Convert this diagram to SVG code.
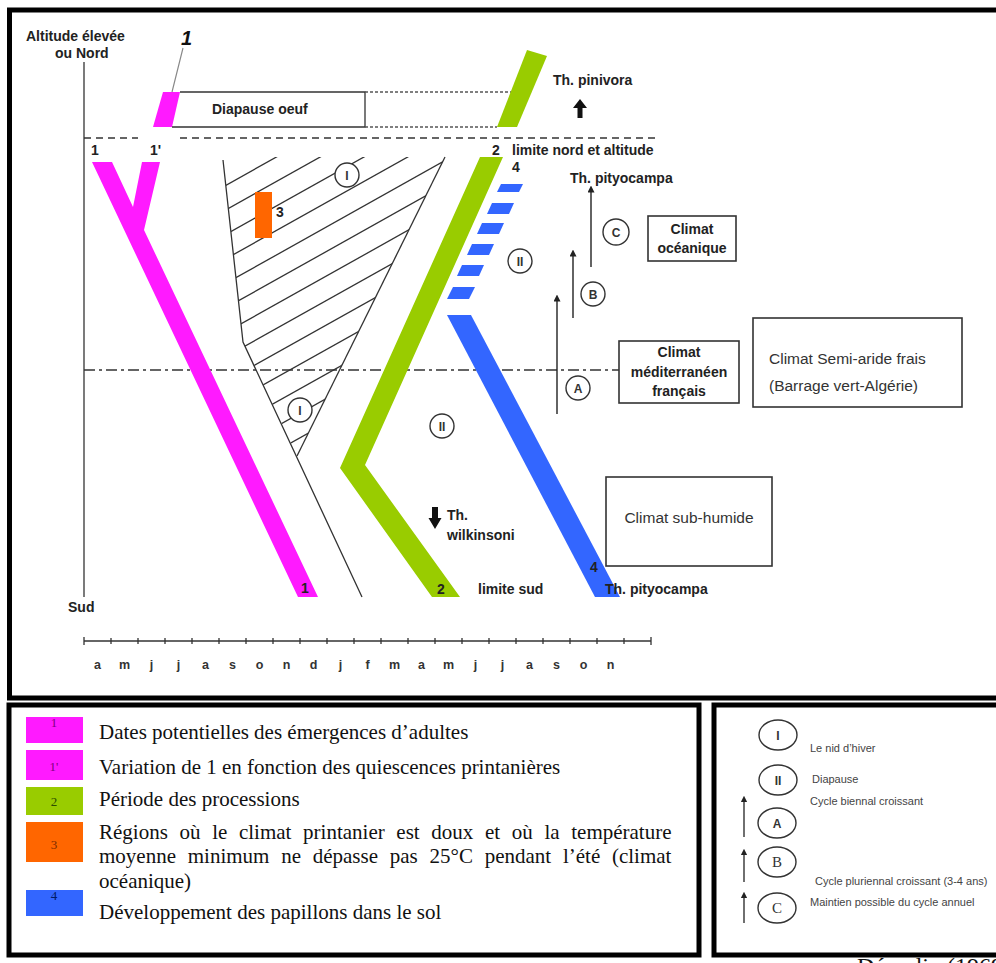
<svg xmlns="http://www.w3.org/2000/svg" width="996" height="963" viewBox="0 0 996 963">
<style>
.b{font-family:"Liberation Sans",Arial,sans-serif;font-weight:bold;font-size:14px;fill:#222}
.m{font-family:"Liberation Sans",Arial,sans-serif;font-weight:bold;font-size:12.5px;fill:#333}
.r{font-family:"Liberation Sans",Arial,sans-serif;font-size:15.5px;fill:#333}
.s{font-family:"Liberation Sans",Arial,sans-serif;font-size:11px;fill:#444}
.ci{font-family:"Liberation Sans",Arial,sans-serif;font-weight:bold;font-size:12px;fill:#333;text-anchor:middle}
.cs{font-family:"Liberation Serif","Times New Roman",serif;font-size:15px;fill:#333;text-anchor:middle}
.lg{font-family:"Liberation Serif","Times New Roman",serif;font-size:21px;fill:#111}
.sw{font-family:"Liberation Serif","Times New Roman",serif;font-size:13px;text-anchor:middle}
.frame{fill:none;stroke:#000;stroke-width:5}
.thin{fill:none;stroke:#333;stroke-width:1.3}
.box{fill:#fff;stroke:#333;stroke-width:1.6}
.circ{fill:#fff;stroke:#333;stroke-width:1.4}
.mag{fill:#ff1aff}
.grn{fill:#99cc00}
.blu{fill:#3366ff}
.org{fill:#ff6600}
</style>
<defs>
<marker id="ah" viewBox="0 0 6 6" refX="3" refY="3" markerWidth="5" markerHeight="5" orient="auto"><path d="M0,0 L6,3 L0,6 z" fill="#222"/></marker>
<clipPath id="tri"><polygon points="223,157 445,157 297,456 243,342"/></clipPath>
</defs>
<rect width="996" height="963" fill="#fff"/>

<g id="frames">
<rect class="frame" x="9.5" y="10" width="1000" height="688"/>
<rect class="frame" x="9" y="705" width="690" height="250"/>
<rect class="frame" x="714" y="705" width="300" height="250"/>
</g>

<g id="axes">
<line class="thin" x1="84" y1="62" x2="84" y2="597"/>
<text class="b" x="26" y="41" font-size="14.5">Altitude élevée</text>
<text class="b" x="55" y="58" font-size="14.5">ou Nord</text>
<text class="b" x="68" y="612">Sud</text>
<line class="thin" x1="84" y1="641" x2="651" y2="641"/>
<path class="thin" d="M84,637V645M111,638V644M138,638V644M165,638V644M192,638V644M219,638V644M246,638V644M273,638V644M300,638V644M327,638V644M354,638V644M381,638V644M408,638V644M435,638V644M462,638V644M489,638V644M516,638V644M543,638V644M570,638V644M597,638V644M624,638V644M651,637V645"/>
<g class="m" text-anchor="middle">
<text x="97.5" y="669">a</text><text x="124.5" y="669">m</text><text x="151.5" y="669">j</text><text x="178.5" y="669">j</text><text x="205.5" y="669">a</text><text x="232.5" y="669">s</text><text x="259.5" y="669">o</text><text x="286.5" y="669">n</text><text x="313.5" y="669">d</text><text x="340.5" y="669">j</text><text x="367.5" y="669">f</text><text x="394.5" y="669">m</text><text x="421.5" y="669">a</text><text x="448.5" y="669">m</text><text x="475.5" y="669">j</text><text x="502.5" y="669">j</text><text x="529.5" y="669">a</text><text x="556.5" y="669">s</text><text x="583.5" y="669">o</text><text x="610.5" y="669">n</text>
</g>
<path d="M84,138H138M180,138H655" stroke="#333" stroke-width="1.4" stroke-dasharray="7 5" fill="none"/>
<line x1="84" y1="370" x2="619" y2="370" stroke="#333" stroke-width="1.4" stroke-dasharray="11 4 3 4"/>
</g>

<g id="nest">
<g clip-path="url(#tri)" stroke="#333" stroke-width="1.3">
<line x1="200" y1="199.8" x2="470" y2="48.6"/>
<line x1="200" y1="224.3" x2="470" y2="73.1"/>
<line x1="200" y1="248.8" x2="470" y2="97.6"/>
<line x1="200" y1="273.3" x2="470" y2="122.1"/>
<line x1="200" y1="297.8" x2="470" y2="146.6"/>
<line x1="200" y1="322.3" x2="470" y2="171.1"/>
<line x1="200" y1="346.8" x2="470" y2="195.6"/>
<line x1="200" y1="371.3" x2="470" y2="220.1"/>
<line x1="200" y1="395.8" x2="470" y2="244.6"/>
<line x1="200" y1="420.3" x2="470" y2="269.1"/>
<line x1="200" y1="444.8" x2="470" y2="293.6"/>
<line x1="200" y1="469.3" x2="470" y2="318.1"/>
<line x1="200" y1="493.8" x2="470" y2="342.6"/>
</g>
<polyline class="thin" points="223,160 243,342 362,597"/>
<line class="thin" x1="445" y1="157" x2="297" y2="456"/>
<circle class="circ" cx="347" cy="175" r="12"/><text class="ci" x="347" y="179.5">I</text>
<circle class="circ" cx="300" cy="410" r="12"/><text class="ci" x="300" y="414.5">I</text>
<rect class="org" x="255" y="192" width="17" height="46"/>
<text class="b" x="276" y="217" font-size="13">3</text>
</g>

<g id="band1">
<polygon class="mag" points="92,162 112,162 133,207 142,162 160,162 144,230 318,597 298,597"/>
<polygon class="mag" points="163,92 180,92 172,127 153,127"/>
<text class="b" x="91" y="155" font-size="13">1</text>
<text class="b" x="150" y="155" font-size="13">1'</text>
<text class="b" x="301" y="593" font-size="12" fill="#660066">1</text>
<line x1="183" y1="48" x2="172" y2="92" stroke="#888" stroke-width="1.2"/>
<text x="181" y="45" font-family="Liberation Sans,Arial,sans-serif" font-weight="bold" font-style="italic" font-size="20" fill="#111">1</text>
</g>

<g id="diapause-oeuf">
<path class="thin" d="M180,92H365V127H172" stroke-width="1.6"/>
<path d="M365,92H511M365,127H497" stroke="#555" stroke-width="1.3" stroke-dasharray="3 2" fill="none"/>
<text class="b" x="212" y="114">Diapause oeuf</text>
</g>

<g id="band2">
<polygon class="grn" points="527,50 547,56 517,127 497,127"/>
<polygon class="grn" points="480,157 503,157 365,465 460,597 432,597 340,468"/>
<text class="b" x="492" y="155" font-size="13">2</text>
<text class="b" x="512" y="155">limite nord et altitude</text>
<text class="b" x="437" y="594" font-size="13" fill="#2d4d00">2</text>
<text class="b" x="478" y="594">limite sud</text>
<text class="b" x="553" y="85">Th. pinivora</text>
<text class="b" x="447" y="520">Th.</text>
<text class="b" x="447" y="540">wilkinsoni</text>
</g>

<g id="band4">
<polygon class="blu" points="501,184 523,184 519,192 497,192"/>
<polygon class="blu" points="492,203 514,203 509,214 487,214"/>
<polygon class="blu" points="482,223 504,223 499,234 477,234"/>
<polygon class="blu" points="472,244 494,244 489,255 467,255"/>
<polygon class="blu" points="462,265 484,265 479,276 457,276"/>
<polygon class="blu" points="453,287 475,287 469,299 447,299"/>
<polygon class="blu" points="447,315 471,315 620,597 595,597"/>
<text class="b" x="512" y="172" font-size="13">4</text>
<text class="b" x="590" y="572" font-size="13" fill="#001a66">4</text>
<text class="b" x="570" y="183">Th. pityocampa</text>
<text class="b" x="605" y="594">Th. pityocampa</text>
<circle class="circ" cx="520" cy="261" r="12"/><text class="ci" x="520" y="265.5">II</text>
<circle class="circ" cx="442" cy="426" r="12"/><text class="ci" x="442" y="430.5">II</text>
</g>

<g id="connectors">
<polygon points="580,99 587,108 582.5,108 582.5,118 577.5,118 577.5,108 573,108" fill="#111"/>
<polygon points="432,507 438,507 438,518 441.5,518 435,529 428.5,518 432,518" fill="#111"/>
<line x1="557" y1="414" x2="557" y2="298" stroke="#222" stroke-width="1.4" marker-end="url(#ah)"/>
<line x1="573" y1="318" x2="573" y2="253" stroke="#222" stroke-width="1.4" marker-end="url(#ah)"/>
<line x1="591" y1="267" x2="591" y2="189" stroke="#222" stroke-width="1.4" marker-end="url(#ah)"/>
<circle class="circ" cx="578" cy="388" r="12"/><text class="ci" x="578" y="392.5">A</text>
<circle class="circ" cx="593" cy="294" r="12"/><text class="ci" x="593" y="298.5">B</text>
<circle class="circ" cx="616" cy="232" r="13"/><text class="ci" x="616" y="236.5">C</text>
</g>

<g id="climat-oceanique">
<rect class="box" x="648" y="216" width="88" height="45"/>
<text class="b" x="692" y="234" text-anchor="middle">Climat</text>
<text class="b" x="692" y="253" text-anchor="middle">océanique</text>
</g>
<g id="climat-mediterraneen">
<rect class="box" x="619" y="341" width="120" height="62"/>
<text class="b" x="679" y="357" text-anchor="middle">Climat</text>
<text class="b" x="679" y="377" text-anchor="middle">méditerranéen</text>
<text class="b" x="679" y="396" text-anchor="middle">français</text>
</g>
<g id="climat-semi-aride">
<rect class="box" x="753" y="318" width="209" height="89"/>
<text class="r" x="769" y="364">Climat Semi-aride frais</text>
<text class="r" x="769" y="391">(Barrage vert-Algérie)</text>
</g>
<g id="climat-sub-humide">
<rect class="box" x="606" y="477" width="166" height="89"/>
<text class="r" x="689" y="523" text-anchor="middle">Climat sub-humide</text>
</g>

<g id="legend-colors">
<rect class="mag" x="26" y="717" width="57" height="26"/><text class="sw" x="54" y="727" fill="#800080">1</text>
<rect class="mag" x="26" y="750" width="57" height="30"/><text class="sw" x="54" y="771" fill="#800080">1'</text>
<rect class="grn" x="26" y="787" width="57" height="28"/><text class="sw" x="54" y="806" fill="#2d4d00">2</text>
<rect class="org" x="26" y="822" width="57" height="40"/><text class="sw" x="54" y="849" fill="#7a2a00">3</text>
<rect class="blu" x="26" y="890" width="57" height="26"/><text class="sw" x="54" y="900" fill="#001a66">4</text>
<text class="lg" x="99" y="739">Dates potentielles des émergences d’adultes</text>
<text class="lg" x="99" y="774">Variation de 1 en fonction des quiescences printanières</text>
<text class="lg" x="99" y="806">Période des processions</text>
<text class="lg" x="99" y="839" word-spacing="6.4">Régions où le climat printanier est doux et où la température</text>
<text class="lg" x="99" y="863" word-spacing="6.5">moyenne minimum ne dépasse pas 25°C pendant l’été (climat</text>
<text class="lg" x="99" y="888">océanique)</text>
<text class="lg" x="99" y="919">Développement des papillons dans le sol</text>
</g>

<g id="legend-symbols">
<ellipse class="circ" cx="778" cy="735" rx="19" ry="15"/><text class="ci" x="778" y="740" font-weight="normal">I</text>
<text class="s" x="810" y="752">Le nid d’hiver</text>
<ellipse class="circ" cx="778" cy="780" rx="19" ry="15"/><text class="ci" x="778" y="785" font-weight="normal">II</text>
<text class="s" x="812" y="783">Diapause</text>
<line x1="744" y1="837" x2="744" y2="799" stroke="#222" stroke-width="1.3" marker-end="url(#ah)"/>
<ellipse class="circ" cx="777" cy="823" rx="19" ry="15"/><text class="ci" x="777" y="828" font-weight="normal" font-size="14">A</text>
<text class="s" x="810" y="805">Cycle biennal croissant</text>
<line x1="744" y1="882" x2="744" y2="852" stroke="#222" stroke-width="1.3" marker-end="url(#ah)"/>
<ellipse class="circ" cx="777" cy="862" rx="19" ry="15"/><text class="cs" x="777" y="867">B</text>
<text class="s" x="815" y="885">Cycle pluriennal croissant (3-4 ans)</text>
<line x1="744" y1="923" x2="744" y2="895" stroke="#222" stroke-width="1.3" marker-end="url(#ah)"/>
<ellipse class="circ" cx="777" cy="908" rx="19" ry="15"/><text class="cs" x="777" y="913">C</text>
<text class="s" x="810" y="906">Maintien possible du cycle annuel</text>
</g>

<text x="857" y="974" font-family="Liberation Serif,Times New Roman,serif" font-size="24" fill="#111">Démolin (1969)</text>
</svg>
